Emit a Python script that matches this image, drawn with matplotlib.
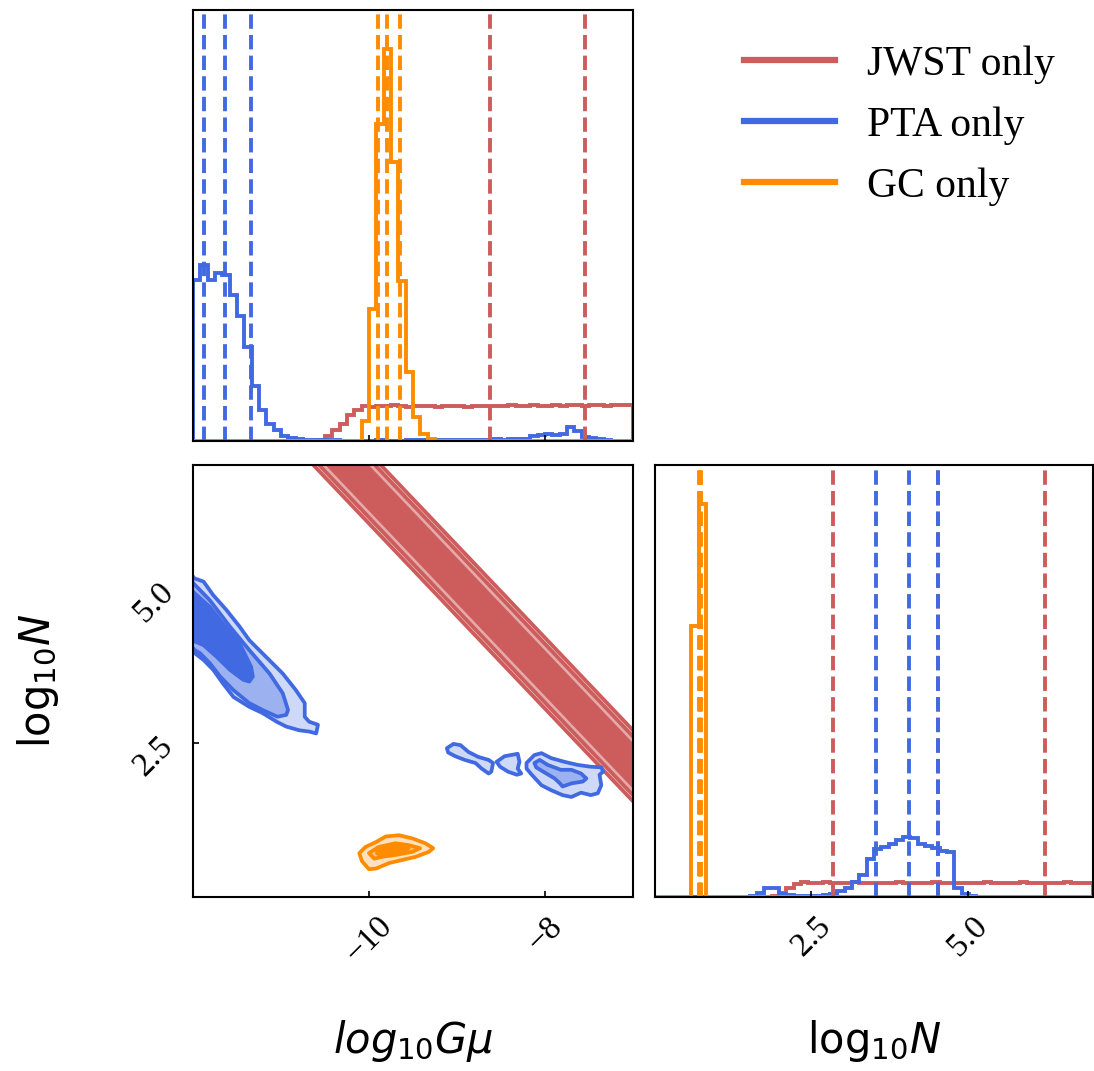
import matplotlib.pyplot as plt
import numpy as np
from matplotlib.colors import to_rgb
from matplotlib.lines import Line2D

plt.rcParams['font.family'] = ['Liberation Serif', 'DejaVu Serif']
plt.rcParams['mathtext.fontset'] = 'dejavusans'

# datasets
names = ['JWST only', 'PTA only', 'GC only']
colors = ['indianred', 'royalblue', 'darkorange']

# parameter ranges
gmu_range = (-12.0, -7.0)
n_range = (0.0, 7.0)
n_bins = 60

# 1D marginals of log10 G mu (60 bins over gmu_range)
jwst_gmu = [0.0] * 17 + [0.003, 0.014, 0.027, 0.044, 0.067, 0.080,
                         0.089, 0.088, 0.090, 0.089, 0.091, 0.089, 0.088, 0.089, 0.090, 0.089,
                         0.088, 0.089, 0.089, 0.090, 0.088, 0.089, 0.090, 0.090, 0.089, 0.090,
                         0.091, 0.089, 0.090, 0.091, 0.090, 0.089, 0.091, 0.090, 0.091, 0.092,
                         0.090, 0.091, 0.091, 0.090, 0.091, 0.091, 0.091]
pta_gmu = [0.41, 0.45, 0.41, 0.43, 0.425, 0.374, 0.319, 0.239, 0.141, 0.078,
           0.044, 0.027, 0.014, 0.008, 0.004,
           0.003, 0.003, 0.002, 0.002, 0.002, 0.001, 0.001, 0.001, 0.001, 0.001,
           0.002, 0.001, 0.001, 0.001, 0.002, 0.002, 0.002, 0.002, 0.003, 0.002,
           0.003, 0.003, 0.003, 0.002, 0.003, 0.003, 0.004, 0.003, 0.004,
           0.004, 0.006, 0.013, 0.016, 0.019, 0.016, 0.017, 0.037, 0.025, 0.011,
           0.009, 0.006, 0.002, 0.001, 0.0, 0.0]
gc_gmu = [0.0] * 23 + [0.052, 0.336, 0.81, 1.0, 0.712, 0.408, 0.175, 0.061, 0.019, 0.004] + [0.0] * 27

# 1D marginals of log10 N (60 bins over n_range)
jwst_n = [0.0] * 16 + [0.002, 0.010, 0.024, 0.032, 0.037,
                       0.036, 0.036, 0.037, 0.036, 0.035, 0.036, 0.037, 0.036, 0.036, 0.035,
                       0.036, 0.036, 0.037, 0.036, 0.036, 0.035, 0.036, 0.037, 0.036, 0.036,
                       0.036, 0.035, 0.036, 0.036, 0.037, 0.036, 0.035, 0.036, 0.036, 0.037,
                       0.036, 0.036, 0.035, 0.036, 0.036, 0.037, 0.036, 0.036, 0.036]
pta_n = [0.0] * 13 + [0.002, 0.011, 0.024, 0.022, 0.008, 0.004, 0.003, 0.002, 0.002, 0.003,
                      0.004, 0.007, 0.014, 0.024, 0.039, 0.056, 0.096, 0.121, 0.127, 0.136,
                      0.144, 0.153, 0.151, 0.134, 0.130, 0.125, 0.117, 0.115, 0.024, 0.007,
                      0.002] + [0.0] * 16
gc_n = [0.0] * 5 + [0.69, 1.0] + [0.0] * 53

# 16/50/84 per cent quantiles
jwst_gmu_q = [-8.63, -7.54]
pta_gmu_q = [-11.88, -11.64, -11.34]
gc_gmu_q = [-9.90, -9.79, -9.65]
jwst_n_q = [2.85, 4.52, 6.23]
pta_n_q = [3.54, 4.06, 4.52]
gc_n_q = [0.70, 0.72, 0.74]

# 2D credible regions (outer, middle, inner)
# JWST: straight band log10N = c + slope*(log10Gmu + 7), (lower c, upper c) per level
jwst_slope = -1.5
jwst_band = [(1.55, 2.70), (1.65, 2.60), (1.80, 2.45)]

pta_left = [
    [(-12.3, 5.65), (-11.98, 5.16), (-11.88, 5.11), (-11.77, 4.89), (-11.62, 4.65), (-11.47, 4.38),
     (-11.36, 4.16), (-11.17, 3.89), (-10.98, 3.62), (-10.83, 3.35), (-10.73, 3.14), (-10.73, 2.92),
     (-10.68, 2.84), (-10.58, 2.79), (-10.60, 2.65), (-10.68, 2.68), (-10.79, 2.70), (-10.94, 2.76),
     (-11.05, 2.84), (-11.21, 2.98), (-11.36, 3.08), (-11.54, 3.24), (-11.66, 3.46), (-11.77, 3.68),
     (-11.88, 3.84), (-11.98, 3.95), (-12.3, 4.45)],
    [(-12.3, 5.55), (-11.98, 5.06), (-11.81, 4.81), (-11.58, 4.38), (-11.36, 4.00), (-11.13, 3.62),
     (-10.98, 3.30), (-10.92, 3.03), (-10.94, 2.95), (-11.04, 2.92), (-11.21, 3.03), (-11.36, 3.14),
     (-11.54, 3.35), (-11.69, 3.57), (-11.81, 3.79), (-11.92, 3.95), (-11.98, 4.00), (-12.3, 4.50)],
    [(-12.3, 5.40), (-11.98, 4.92), (-11.81, 4.70), (-11.66, 4.43), (-11.47, 4.11), (-11.34, 3.73),
     (-11.32, 3.57), (-11.36, 3.49), (-11.43, 3.52), (-11.58, 3.68), (-11.73, 3.89), (-11.88, 4.08),
     (-11.98, 4.14), (-12.3, 4.60)],
]
pta_right_outer = [
    [(-9.115, 2.41), (-9.04, 2.48), (-8.96, 2.46), (-8.87, 2.35), (-8.76, 2.27), (-8.64, 2.22),
     (-8.59, 2.17), (-8.61, 2.03), (-8.64, 2.00), (-8.72, 2.08), (-8.79, 2.17), (-8.91, 2.22),
     (-9.02, 2.28), (-9.10, 2.34)],
    [(-8.55, 2.19), (-8.46, 2.28), (-8.31, 2.32), (-8.29, 2.19), (-8.31, 2.08), (-8.27, 2.00),
     (-8.32, 1.98), (-8.42, 2.03), (-8.51, 2.11)],
    [(-8.21, 2.17), (-8.12, 2.30), (-8.04, 2.33), (-7.93, 2.25), (-7.78, 2.19), (-7.63, 2.14),
     (-7.48, 2.11), (-7.36, 2.10), (-7.34, 2.03), (-7.38, 1.98), (-7.36, 1.81), (-7.40, 1.68),
     (-7.48, 1.65), (-7.59, 1.69), (-7.70, 1.62), (-7.80, 1.65), (-7.93, 1.73), (-8.04, 1.81),
     (-8.15, 1.98), (-8.21, 2.08)],
]
pta_right_mid = [(-8.12, 2.17), (-8.06, 2.22), (-7.97, 2.14), (-7.82, 2.06), (-7.70, 2.06), (-7.59, 2.00),
                 (-7.53, 1.92), (-7.57, 1.87), (-7.70, 1.84), (-7.80, 1.79), (-7.83, 1.84), (-7.89, 1.92),
                 (-8.02, 2.03), (-8.10, 2.10)]
gc_blob = [
    [(-10.11, 0.71), (-10.04, 0.81), (-9.92, 0.89), (-9.81, 0.98), (-9.66, 1.00), (-9.51, 0.95),
     (-9.36, 0.87), (-9.27, 0.79), (-9.32, 0.73), (-9.47, 0.65), (-9.62, 0.60), (-9.77, 0.55),
     (-9.92, 0.46), (-10.00, 0.45), (-10.08, 0.58)],
    [(-10.00, 0.71), (-9.89, 0.81), (-9.70, 0.87), (-9.55, 0.84), (-9.42, 0.79), (-9.51, 0.73),
     (-9.70, 0.68), (-9.85, 0.65), (-9.94, 0.62)],
    [(-9.89, 0.79), (-9.77, 0.81), (-9.62, 0.84), (-9.55, 0.79), (-9.59, 0.73), (-9.74, 0.68),
     (-9.85, 0.66), (-9.91, 0.71)],
]


def shade(color, t):
    # mix a colour with white, t = 1 gives the full colour
    rgb = np.array(to_rgb(color))
    return tuple(1 - t * (1 - rgb))


def region(ax, pts, color, t):
    pts = np.array(pts)
    ax.fill(pts[:, 0], pts[:, 1], facecolor=shade(color, t), edgecolor=color,
            lw=2.7, joinstyle='round', zorder=2)


LW = 2.8
fig = plt.figure(figsize=(10.94, 10.71), dpi=100)
ax_top = fig.add_axes([0.1764, 0.5882, 0.4022, 0.4024])
ax_2d = fig.add_axes([0.1764, 0.1625, 0.4022, 0.4034])
ax_n = fig.add_axes([0.5987, 0.1625, 0.4004, 0.4034])

gmu_edges = np.linspace(gmu_range[0], gmu_range[1], n_bins + 1)
n_edges = np.linspace(n_range[0], n_range[1], n_bins + 1)

# marginal histograms and quantile lines
for vals, qs, c in zip([jwst_gmu, pta_gmu, gc_gmu], [jwst_gmu_q, pta_gmu_q, gc_gmu_q], colors):
    ax_top.stairs(vals, gmu_edges, color=c, lw=LW, baseline=0)
    for q in qs:
        ax_top.axvline(q, color=c, ls='--', lw=LW)
for vals, qs, c in zip([jwst_n, pta_n, gc_n], [jwst_n_q, pta_n_q, gc_n_q], colors):
    ax_n.stairs(vals, n_edges, color=c, lw=LW, baseline=0)
    for q in qs:
        ax_n.axvline(q, color=c, ls='--', lw=LW)

ax_top.set_xlim(*gmu_range)
ax_top.set_ylim(0, 1.1 * max(max(jwst_gmu), max(pta_gmu), max(gc_gmu)))
ax_n.set_xlim(*n_range)
ax_n.set_ylim(0, 1.1 * max(max(jwst_n), max(pta_n), max(gc_n)))

# JWST band
xs = np.array([-11.5, -6.5])
shades = [0.26, 0.52, 1.0]
for (lo, hi), t in zip(jwst_band, shades):
    ylo = lo + jwst_slope * (xs + 7)
    yhi = hi + jwst_slope * (xs + 7)
    region(ax_2d, list(zip(xs, ylo)) + list(zip(xs[::-1], yhi[::-1])), colors[0], t)

# PTA regions
for pts, t in zip(pta_left, shades):
    region(ax_2d, pts, colors[1], t)
for pts in pta_right_outer:
    region(ax_2d, pts, colors[1], 0.26)
region(ax_2d, pta_right_mid, colors[1], 0.52)

# GC region
for pts, t in zip(gc_blob, shades):
    region(ax_2d, pts, colors[2], t)

ax_2d.set_xlim(*gmu_range)
ax_2d.set_ylim(*n_range)

# axes cosmetics
for ax in [ax_top, ax_2d, ax_n]:
    for s in ax.spines.values():
        s.set_linewidth(1.5)
    ax.tick_params(direction='in', length=4, width=1.2, labelsize=24, pad=10)

ax_top.set_xticks([-10, -8])
ax_top.set_xticklabels([])
ax_top.set_yticks([])

ax_2d.set_xticks([-10, -8])
ax_2d.set_yticks([2.5, 5.0])
ax_n.set_xticks([2.5, 5.0])
ax_n.set_yticks([])
for lab in ax_2d.get_xticklabels() + ax_2d.get_yticklabels() + ax_n.get_xticklabels():
    lab.set_rotation(45)

ax_2d.set_xlabel(r'$log_{10}G\mu$', fontsize=30)
ax_2d.xaxis.set_label_coords(0.5, -0.28)
ax_2d.set_ylabel(r'$\mathrm{log}_{10}N$', fontsize=30)
ax_2d.yaxis.set_label_coords(-0.30, 0.5)
ax_n.set_xlabel(r'$\mathrm{log}_{10}N$', fontsize=30)
ax_n.xaxis.set_label_coords(0.5, -0.28)

handles = [Line2D([0], [0], color=c, lw=4.5) for c in colors]
fig.legend(handles, names, loc='center', bbox_to_anchor=(0.822, 0.883), frameon=False,
           fontsize=30, handlelength=2.2, handletextpad=0.77, labelspacing=0.54)

fig.savefig('out.png', dpi=100)
